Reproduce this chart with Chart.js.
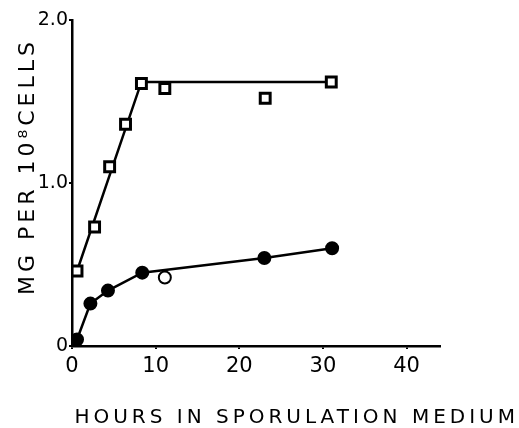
<!DOCTYPE html>
<html>
<head>
<meta charset="utf-8">
<script src="https://cdn.jsdelivr.net/npm/chart.js@4.4.1/dist/chart.umd.min.js"></script>
<style>
  body { margin: 0; background: #fff; }
  #wrap { width: 519px; height: 428px; }
</style>
</head>
<body>
<div id="wrap"><canvas id="myChart"></canvas></div>
<script>
// squares
const squareHours = [0.6, 2.7, 4.5, 6.4, 8.3, 11.1, 23.1, 31];
const squareMg = [0.46, 0.73, 1.10, 1.36, 1.61, 1.58, 1.52, 1.62];
const squareFitHours = [0.6, 8.3, 31];
const squareFitMg = [0.46, 1.62, 1.62];

// circles
const circleHours = [0.6, 2.2, 4.3, 8.4, 11.1, 23.0, 31.1];
const circleMg = [0.04, 0.26, 0.34, 0.45, 0.42, 0.54, 0.60];
const circleFitHours = [0.6, 2.2, 4.3, 8.4, 23.0, 31.1];
const circleFitMg = [0.04, 0.26, 0.34, 0.45, 0.54, 0.60];

const xTicks = [0, 10, 20, 30, 40];
const yTickLabels = {0: '0', 1: '1.0', 2: '2.0'};

const pts = (xs, ys) => xs.map((x, i) => ({x: x, y: ys[i]}));
const font = 'DejaVu Sans';

// wide lettering for the titles, none for the tick labels
const spacing = {
    id: 'spacing',
    beforeDraw(chart) { chart.ctx.letterSpacing = '4px'; },
    beforeDatasetsDraw(chart) { chart.ctx.letterSpacing = '0px'; }
};

const ctx = document.getElementById('myChart');

new Chart(ctx, {
    type: 'scatter',
    data: {
        datasets: [
            {
                data: pts(squareHours, squareMg),
                pointStyle: 'rect',
                pointRadius: 7,
                pointBorderWidth: 3,
                pointBorderColor: '#000',
                pointBackgroundColor: '#fff',
                showLine: false,
            },
            {
                data: pts(circleHours, circleMg),
                pointStyle: 'circle',
                pointRadius: 6,
                pointBorderWidth: 2,
                pointBorderColor: '#000',
                pointBackgroundColor: c => (c.raw && c.raw.x === 11.1) ? '#fff' : '#000',
                showLine: false,
            },
            {
                data: pts(squareFitHours, squareFitMg),
                showLine: true,
                pointRadius: 0,
                borderWidth: 2.5,
                borderColor: '#000',
            },
            {
                data: pts(circleFitHours, circleFitMg),
                showLine: true,
                pointRadius: 0,
                borderWidth: 2.5,
                borderColor: '#000',
            }
        ]
    },
    options: {
        responsive: true,
        maintainAspectRatio: false,
        animation: false,
        layout: { padding: { top: 20, left: 0, right: 0, bottom: 0 } },
        plugins: {
            legend: { display: false },
            tooltip: { enabled: false },
            title: {
                display: true,
                text: 'HOURS IN SPORULATION MEDIUM',
                position: 'bottom',
                align: 'end',
                color: '#000',
                padding: 0,
                font: { family: font, size: 20, weight: 'normal', lineHeight: 1 }
            }
        },
        scales: {
            x: {
                type: 'linear',
                position: 'bottom',
                min: 0,
                max: 44,
                afterBuildTicks: s => { s.ticks = xTicks.map(v => ({value: v})); },
                afterFit: s => { s.height = 62; },
                border: { display: true, color: '#000', width: 2.5 },
                grid: { display: true, drawOnChartArea: false, drawTicks: true, tickLength: 3, color: '#000', lineWidth: 2 },
                ticks: { z: 1, color: '#000', padding: 5, maxRotation: 0, font: { family: font, size: 21 } }
            },
            y: {
                position: 'left',
                min: 0,
                max: 2,
                afterBuildTicks: s => { s.ticks = Object.keys(yTickLabels).map(v => ({value: +v})); },
                afterFit: s => { s.width = 72; },
                border: { display: true, color: '#000', width: 2.5 },
                grid: { display: true, drawOnChartArea: false, drawTicks: true, tickLength: 3, color: '#000', lineWidth: 2 },
                ticks: {
                    z: 1, color: '#000', padding: 1,
                    font: { family: font, size: 19 },
                    callback: v => yTickLabels[v]
                },
                title: {
                    display: true,
                    text: '   MG PER 10⁸CELLS',
                    color: '#000',
                    padding: { top: 15, bottom: 0 },
                    font: { family: font, size: 22 }
                }
            },
            y2: {
                position: 'right',
                display: true,
                afterFit: s => { s.width = 79; },
                border: { display: false },
                grid: { display: false, drawTicks: false },
                ticks: { display: false }
            }
        }
    },
    plugins: [spacing]
});
</script>
</body>
</html>
